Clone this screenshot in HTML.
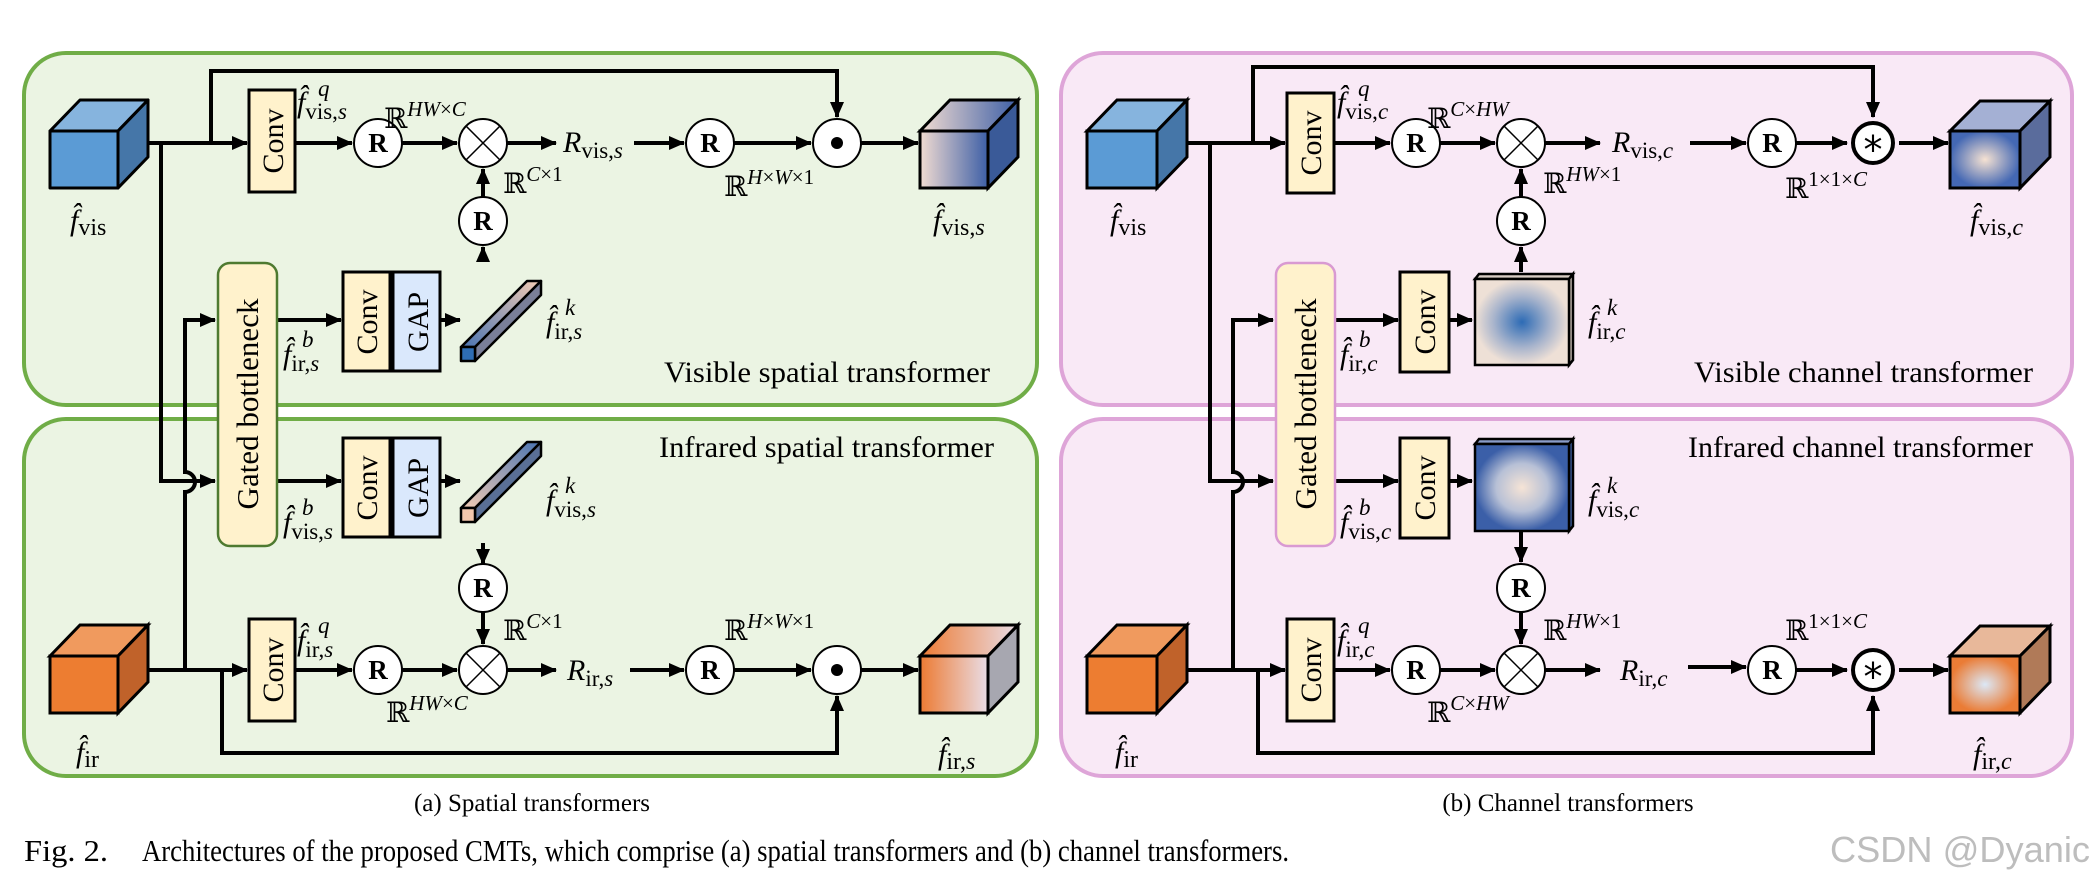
<!DOCTYPE html>
<html><head><meta charset="utf-8"><style>
html,body{margin:0;padding:0;background:#fff;}
svg{display:block;}
text{font-family:"Liberation Serif","DejaVu Serif",serif;fill:#000;}
.lb{font-size:30px;font-style:italic;}
.sb{font-style:normal;}
.rr{font-size:27px;font-weight:bold;}
.ln{stroke:#000;stroke-width:4;fill:none;}
.bx{stroke:#000;stroke-width:3;}
.pt{font-size:30px;}
</style></head><body>
<svg width="2095" height="885" viewBox="0 0 2095 885" xmlns="http://www.w3.org/2000/svg">
<defs>
<marker id="a" markerUnits="userSpaceOnUse" markerWidth="16" markerHeight="14" refX="15" refY="7" orient="auto"><path d="M0,0 L16,7 L0,14 z" fill="#000"/></marker>
<linearGradient id="gvs" x1="0" x2="1"><stop offset="0" stop-color="#f2dcd2"/><stop offset="1" stop-color="#3d5fa6"/></linearGradient>
<linearGradient id="gis" x1="0" x2="1"><stop offset="0" stop-color="#ec7a32"/><stop offset="1" stop-color="#eadde6"/></linearGradient>
<linearGradient id="bar1" x1="0" y1="1" x2="1" y2="0"><stop offset="0" stop-color="#4a74b2"/><stop offset="1" stop-color="#f3ccb4"/></linearGradient>
<linearGradient id="bar2" x1="0" y1="1" x2="1" y2="0"><stop offset="0" stop-color="#f3ccb4"/><stop offset="1" stop-color="#4a74b2"/></linearGradient>
<radialGradient id="rb"><stop offset="0" stop-color="#2d6bb5"/><stop offset="0.6" stop-color="#a8b4cc"/><stop offset="1" stop-color="#eee0d6"/></radialGradient>
<radialGradient id="rw"><stop offset="0" stop-color="#f6e4d6"/><stop offset="0.55" stop-color="#b7c0d6"/><stop offset="1" stop-color="#3b5fa8"/></radialGradient>
<radialGradient id="rvc"><stop offset="0" stop-color="#f6e2d2"/><stop offset="1" stop-color="#4468b4"/></radialGradient>
<radialGradient id="ric"><stop offset="0" stop-color="#dce8f6"/><stop offset="1" stop-color="#ea7c36"/></radialGradient>
</defs>

<rect x="24" y="53" width="1013" height="352" rx="42" fill="#ebf4e3" stroke="#70ad47" stroke-width="4"/>
<rect x="24" y="419" width="1013" height="357" rx="42" fill="#ebf4e3" stroke="#70ad47" stroke-width="4"/>
<rect x="1061" y="53" width="1011" height="352" rx="42" fill="#f9e9f6" stroke="#dea5d8" stroke-width="4"/>
<rect x="1061" y="419" width="1011" height="357" rx="42" fill="#f9e9f6" stroke="#dea5d8" stroke-width="4"/>

<!-- ============ LEFT ============ -->
<g class="bx" stroke-linejoin="round">
<rect x="50" y="131" width="68" height="57" fill="#5b9bd5"/>
<polygon points="50,131 80,100 148,100 118,131" fill="#86b4de"/>
<polygon points="118,131 148,100 148,157 118,188" fill="#4576a8"/>
</g>
<g class="bx">
<rect x="50" y="656" width="68" height="57" fill="#ed7d31"/>
<polygon points="50,656 80,625 148,625 118,656" fill="#f09a5e"/>
<polygon points="118,656 148,625 148,682 118,713" fill="#c0622a"/>
</g>
<g class="bx">
<rect x="920" y="131" width="68" height="57" fill="url(#gvs)"/>
<polygon points="920,131 950,100 1018,100 988,131" fill="url(#gvs)"/>
<polygon points="988,131 1018,100 1018,157 988,188" fill="#3a5a98"/>
<rect x="920" y="656" width="68" height="57" fill="url(#gis)"/>
<polygon points="920,656 950,625 1018,625 988,656" fill="url(#gis)"/>
<polygon points="988,656 1018,625 1018,682 988,713" fill="#a7a7b0"/>
</g>

<path class="ln" d="M148,143 L247,143" marker-end="url(#a)"/>
<path class="ln" d="M211,143 L211,71 L837,71 L837,117" marker-end="url(#a)"/>
<path class="ln" d="M295,143 L352,143" marker-end="url(#a)"/>
<path class="ln" d="M402,143 L457,143" marker-end="url(#a)"/>
<path class="ln" d="M507,143 L556,143" marker-end="url(#a)"/>
<path class="ln" d="M634,143 L684,143" marker-end="url(#a)"/>
<path class="ln" d="M734,143 L811,143" marker-end="url(#a)"/>
<path class="ln" d="M861,143 L918,143" marker-end="url(#a)"/>
<path class="ln" d="M483,197 L483,169" marker-end="url(#a)"/>
<path class="ln" d="M483,262 L483,247" marker-end="url(#a)"/>
<path class="ln" d="M148,670 L247,670" marker-end="url(#a)"/>
<path class="ln" d="M222,670 L222,753 L837,753 L837,696" marker-end="url(#a)"/>
<path class="ln" d="M295,670 L352,670" marker-end="url(#a)"/>
<path class="ln" d="M402,670 L457,670" marker-end="url(#a)"/>
<path class="ln" d="M507,670 L556,670" marker-end="url(#a)"/>
<path class="ln" d="M630,670 L684,670" marker-end="url(#a)"/>
<path class="ln" d="M734,670 L811,670" marker-end="url(#a)"/>
<path class="ln" d="M861,670 L918,670" marker-end="url(#a)"/>
<path class="ln" d="M483,543 L483,564" marker-end="url(#a)"/>
<path class="ln" d="M483,612 L483,644" marker-end="url(#a)"/>
<path class="ln" d="M161,143 L161,481 L215,481" marker-end="url(#a)"/>
<path class="ln" d="M185,670 L185,492 A10,10 0 0 0 185,472 L185,320 L215,320" marker-end="url(#a)"/>
<path class="ln" d="M278,320 L341,320" marker-end="url(#a)"/>
<path class="ln" d="M278,481 L341,481" marker-end="url(#a)"/>
<path class="ln" d="M440,320 L460,320" marker-end="url(#a)"/>
<path class="ln" d="M440,481 L460,481" marker-end="url(#a)"/>

<rect x="218" y="263" width="59" height="283" rx="12" fill="#fff2cc" stroke="#4e7a30" stroke-width="2.5"/>
<text transform="translate(258,404) rotate(-90)" text-anchor="middle" font-size="31">Gated bottleneck</text>
<g class="bx">
<rect x="249" y="90" width="46" height="102" fill="#fff2cc"/>
<rect x="249" y="619" width="46" height="102" fill="#fff2cc"/>
<rect x="343" y="272" width="47" height="99" fill="#fff2cc"/>
<rect x="393" y="272" width="47" height="99" fill="#dae8fc"/>
<rect x="343" y="438" width="47" height="99" fill="#fff2cc"/>
<rect x="393" y="438" width="47" height="99" fill="#dae8fc"/>
</g>
<g font-size="30" text-anchor="middle">
<text transform="translate(283,141) rotate(-90)">Conv</text>
<text transform="translate(283,670) rotate(-90)">Conv</text>
<text transform="translate(377,322) rotate(-90)">Conv</text>
<text transform="translate(428,322) rotate(-90)">GAP</text>
<text transform="translate(377,488) rotate(-90)">Conv</text>
<text transform="translate(428,488) rotate(-90)">GAP</text>
</g>
<g stroke="#000" stroke-width="2.5" stroke-linejoin="round">
<polygon points="461,347 527,281 541,281 475,347" fill="url(#bar1)"/>
<polygon points="475,347 541,281 541,295 475,361" fill="#7a7f98"/>
<rect x="461" y="347" width="14" height="14" fill="#2e6db4"/>
<polygon points="461,508 527,442 541,442 475,508" fill="url(#bar2)"/>
<polygon points="475,508 541,442 541,456 475,522" fill="#5a6f96"/>
<rect x="461" y="508" width="14" height="14" fill="#f3c6ac"/>
</g>

<g fill="#fff" stroke="#000" stroke-width="2">
<circle cx="378" cy="143" r="24"/><circle cx="483" cy="143" r="24"/><circle cx="483" cy="221" r="24"/>
<circle cx="710" cy="143" r="24"/><circle cx="837" cy="143" r="24"/>
<circle cx="378" cy="670" r="24"/><circle cx="483" cy="670" r="24"/><circle cx="483" cy="588" r="24"/>
<circle cx="710" cy="670" r="24"/><circle cx="837" cy="670" r="24"/>
</g>
<g stroke="#000" stroke-width="1.5">
<path d="M466,126 L500,160 M500,126 L466,160"/>
<path d="M466,653 L500,687 M500,653 L466,687"/>
</g>
<circle cx="837" cy="143" r="6" fill="#000"/><circle cx="837" cy="670" r="6" fill="#000"/>
<g class="rr" text-anchor="middle">
<text x="378" y="152">R</text><text x="483" y="230">R</text><text x="710" y="152">R</text>
<text x="378" y="679">R</text><text x="483" y="597">R</text><text x="710" y="679">R</text>
</g>

<g class="lb">
<text x="70" y="230">f̂<tspan class="sb" font-size="24" dy="5">vis</tspan></text>
<text x="297" y="112">f̂<tspan class="sb" font-size="23" dy="7">vis,</tspan><tspan font-size="23">s</tspan><tspan font-size="23" x="318" y="96">q</tspan></text>
<text x="384" y="128" font-style="normal" font-size="28">ℝ<tspan font-style="italic" font-size="21" dy="-12">HW</tspan><tspan font-size="21">×</tspan><tspan font-style="italic" font-size="21">C</tspan></text>
<text x="503" y="193" font-style="normal" font-size="28">ℝ<tspan font-style="italic" font-size="21" dy="-12">C</tspan><tspan font-size="21">×1</tspan></text>
<text x="563" y="152">R<tspan class="sb" font-size="23" dy="6">vis,</tspan><tspan font-size="23">s</tspan></text>
<text x="724" y="196" font-style="normal" font-size="28">ℝ<tspan font-style="italic" font-size="21" dy="-12">H</tspan><tspan font-size="21">×</tspan><tspan font-style="italic" font-size="21">W</tspan><tspan font-size="21">×1</tspan></text>
<text x="933" y="230">f̂<tspan class="sb" font-size="24" dy="5">vis,</tspan><tspan font-size="24">s</tspan></text>
<text x="283" y="364">f̂<tspan class="sb" font-size="23" dy="7">ir,</tspan><tspan font-size="23">s</tspan><tspan font-size="23" x="302" y="347">b</tspan></text>
<text x="546" y="332">f̂<tspan class="sb" font-size="23" dy="7">ir,</tspan><tspan font-size="23">s</tspan><tspan font-size="23" x="565" y="315">k</tspan></text>
<text x="546" y="510">f̂<tspan class="sb" font-size="23" dy="7">vis,</tspan><tspan font-size="23">s</tspan><tspan font-size="23" x="565" y="493">k</tspan></text>
<text x="283" y="532">f̂<tspan class="sb" font-size="23" dy="7">vis,</tspan><tspan font-size="23">s</tspan><tspan font-size="23" x="302" y="515">b</tspan></text>
<text x="503" y="640" font-style="normal" font-size="28">ℝ<tspan font-style="italic" font-size="21" dy="-12">C</tspan><tspan font-size="21">×1</tspan></text>
<text x="724" y="640" font-style="normal" font-size="28">ℝ<tspan font-style="italic" font-size="21" dy="-12">H</tspan><tspan font-size="21">×</tspan><tspan font-style="italic" font-size="21">W</tspan><tspan font-size="21">×1</tspan></text>
<text x="297" y="650">f̂<tspan class="sb" font-size="23" dy="7">ir,</tspan><tspan font-size="23">s</tspan><tspan font-size="23" x="318" y="633">q</tspan></text>
<text x="386" y="722" font-style="normal" font-size="28">ℝ<tspan font-style="italic" font-size="21" dy="-12">HW</tspan><tspan font-size="21">×</tspan><tspan font-style="italic" font-size="21">C</tspan></text>
<text x="567" y="680">R<tspan class="sb" font-size="23" dy="6">ir,</tspan><tspan font-size="23">s</tspan></text>
<text x="76" y="762">f̂<tspan class="sb" font-size="24" dy="5">ir</tspan></text>
<text x="938" y="764">f̂<tspan class="sb" font-size="24" dy="5">ir,</tspan><tspan font-size="24">s</tspan></text>
</g>
<text class="pt" x="664" y="382" textLength="326" lengthAdjust="spacingAndGlyphs">Visible spatial transformer</text>
<text class="pt" x="659" y="457" textLength="335" lengthAdjust="spacingAndGlyphs">Infrared spatial transformer</text>

<!-- ============ RIGHT ============ -->
<g class="bx">
<rect x="1087" y="131" width="70" height="57" fill="#5b9bd5"/>
<polygon points="1087,131 1117,100 1187,100 1157,131" fill="#86b4de"/>
<polygon points="1157,131 1187,100 1187,157 1157,188" fill="#4576a8"/>
<rect x="1087" y="656" width="70" height="57" fill="#ed7d31"/>
<polygon points="1087,656 1117,625 1187,625 1157,656" fill="#f09a5e"/>
<polygon points="1157,656 1187,625 1187,682 1157,713" fill="#c0622a"/>
<rect x="1950" y="131" width="70" height="57" fill="url(#rvc)"/>
<polygon points="1950,131 1980,101 2050,101 2020,131" fill="#a4b0d4"/>
<polygon points="2020,131 2050,101 2050,157 2020,188" fill="#5a6c9c"/>
<rect x="1950" y="656" width="70" height="57" fill="url(#ric)"/>
<polygon points="1950,656 1980,626 2050,626 2020,656" fill="#e8b89a"/>
<polygon points="2020,656 2050,626 2050,682 2020,713" fill="#b07a58"/>
</g>

<path class="ln" d="M1187,143 L1285,143" marker-end="url(#a)"/>
<path class="ln" d="M1253,143 L1253,67 L1873,67 L1873,117" marker-end="url(#a)"/>
<path class="ln" d="M1334,143 L1390,143" marker-end="url(#a)"/>
<path class="ln" d="M1440,143 L1495,143" marker-end="url(#a)"/>
<path class="ln" d="M1545,143 L1600,143" marker-end="url(#a)"/>
<path class="ln" d="M1690,143 L1746,143" marker-end="url(#a)"/>
<path class="ln" d="M1796,143 L1847,143" marker-end="url(#a)"/>
<path class="ln" d="M1899,143 L1948,143" marker-end="url(#a)"/>
<path class="ln" d="M1521,197 L1521,169" marker-end="url(#a)"/>
<path class="ln" d="M1521,272 L1521,247" marker-end="url(#a)"/>

<path class="ln" d="M1187,670 L1285,670" marker-end="url(#a)"/>
<path class="ln" d="M1258,670 L1258,753 L1873,753 L1873,696" marker-end="url(#a)"/>
<path class="ln" d="M1334,670 L1390,670" marker-end="url(#a)"/>
<path class="ln" d="M1440,670 L1495,670" marker-end="url(#a)"/>
<path class="ln" d="M1545,670 L1600,670" marker-end="url(#a)"/>
<path class="ln" d="M1688,667 L1746,667" marker-end="url(#a)"/>
<path class="ln" d="M1796,670 L1847,670" marker-end="url(#a)"/>
<path class="ln" d="M1899,670 L1948,670" marker-end="url(#a)"/>
<path class="ln" d="M1521,532 L1521,562" marker-end="url(#a)"/>
<path class="ln" d="M1521,612 L1521,644" marker-end="url(#a)"/>

<path class="ln" d="M1210,143 L1210,481 L1273,481" marker-end="url(#a)"/>
<path class="ln" d="M1233,670 L1233,492 A10,10 0 0 0 1233,472 L1233,320 L1273,320" marker-end="url(#a)"/>
<path class="ln" d="M1335,320 L1398,320" marker-end="url(#a)"/>
<path class="ln" d="M1335,481 L1398,481" marker-end="url(#a)"/>
<path class="ln" d="M1449,320 L1472,320" marker-end="url(#a)"/>
<path class="ln" d="M1449,481 L1472,481" marker-end="url(#a)"/>

<rect x="1276" y="263" width="59" height="283" rx="12" fill="#fff2cc" stroke="#d99ad2" stroke-width="2.5"/>
<text transform="translate(1316,404) rotate(-90)" text-anchor="middle" font-size="31">Gated bottleneck</text>
<g class="bx">
<rect x="1287" y="93" width="47" height="100" fill="#fff2cc"/>
<rect x="1287" y="619" width="47" height="102" fill="#fff2cc"/>
<rect x="1400" y="272" width="49" height="100" fill="#fff2cc"/>
<rect x="1400" y="438" width="49" height="100" fill="#fff2cc"/>
</g>
<g font-size="30" text-anchor="middle">
<text transform="translate(1321,143) rotate(-90)">Conv</text>
<text transform="translate(1321,670) rotate(-90)">Conv</text>
<text transform="translate(1435,322) rotate(-90)">Conv</text>
<text transform="translate(1435,488) rotate(-90)">Conv</text>
</g>
<g stroke="#000" stroke-width="2.5">
<polygon points="1475,279 1479,274 1573,274 1569,279" fill="#d8ccc4"/>
<polygon points="1569,279 1573,274 1573,360 1569,365" fill="#c8bcb4"/>
<rect x="1475" y="279" width="94" height="86" fill="url(#rb)"/>
<polygon points="1475,444 1479,439 1573,439 1569,444" fill="#8a9cc8"/>
<polygon points="1569,444 1573,439 1573,526 1569,531" fill="#3a5a98"/>
<rect x="1475" y="444" width="94" height="87" fill="url(#rw)"/>
</g>

<g fill="#fff" stroke="#000" stroke-width="2">
<circle cx="1416" cy="143" r="24"/><circle cx="1521" cy="143" r="24"/><circle cx="1521" cy="221" r="24"/>
<circle cx="1772" cy="143" r="24"/>
<circle cx="1416" cy="670" r="24"/><circle cx="1521" cy="670" r="24"/><circle cx="1521" cy="588" r="24"/>
<circle cx="1772" cy="670" r="24"/>
</g>
<circle cx="1873" cy="143" r="20" fill="#fff" stroke="#000" stroke-width="4"/>
<circle cx="1873" cy="670" r="20" fill="#fff" stroke="#000" stroke-width="4"/>
<g stroke="#000" stroke-width="1.5">
<path d="M1504,126 L1538,160 M1538,126 L1504,160"/>
<path d="M1504,653 L1538,687 M1538,653 L1504,687"/>
</g>
<g font-size="38" text-anchor="middle">
<text x="1873" y="163" style="font-family:'DejaVu Sans',sans-serif">*</text>
<text x="1873" y="690" style="font-family:'DejaVu Sans',sans-serif">*</text>
</g>
<g class="rr" text-anchor="middle">
<text x="1416" y="152">R</text><text x="1521" y="230">R</text><text x="1772" y="152">R</text>
<text x="1416" y="679">R</text><text x="1521" y="597">R</text><text x="1772" y="679">R</text>
</g>

<g class="lb">
<text x="1110" y="230">f̂<tspan class="sb" font-size="24" dy="5">vis</tspan></text>
<text x="1337" y="112">f̂<tspan class="sb" font-size="23" dy="7">vis,</tspan><tspan font-size="23">c</tspan><tspan font-size="23" x="1358" y="96">q</tspan></text>
<text x="1427" y="128" font-style="normal" font-size="28">ℝ<tspan font-style="italic" font-size="21" dy="-12">C</tspan><tspan font-size="21">×</tspan><tspan font-style="italic" font-size="21">HW</tspan></text>
<text x="1543" y="193" font-style="normal" font-size="28">ℝ<tspan font-style="italic" font-size="21" dy="-12">HW</tspan><tspan font-size="21">×1</tspan></text>
<text x="1612" y="152">R<tspan class="sb" font-size="23" dy="6">vis,</tspan><tspan font-size="23">c</tspan></text>
<text x="1785" y="198" font-style="normal" font-size="28">ℝ<tspan font-size="21" dy="-12">1×1×</tspan><tspan font-style="italic" font-size="21">C</tspan></text>
<text x="1970" y="230">f̂<tspan class="sb" font-size="24" dy="5">vis,</tspan><tspan font-size="24">c</tspan></text>
<text x="1340" y="364">f̂<tspan class="sb" font-size="23" dy="7">ir,</tspan><tspan font-size="23">c</tspan><tspan font-size="23" x="1359" y="347">b</tspan></text>
<text x="1588" y="332">f̂<tspan class="sb" font-size="23" dy="7">ir,</tspan><tspan font-size="23">c</tspan><tspan font-size="23" x="1607" y="315">k</tspan></text>
<text x="1588" y="510">f̂<tspan class="sb" font-size="23" dy="7">vis,</tspan><tspan font-size="23">c</tspan><tspan font-size="23" x="1607" y="493">k</tspan></text>
<text x="1340" y="532">f̂<tspan class="sb" font-size="23" dy="7">vis,</tspan><tspan font-size="23">c</tspan><tspan font-size="23" x="1359" y="515">b</tspan></text>
<text x="1543" y="640" font-style="normal" font-size="28">ℝ<tspan font-style="italic" font-size="21" dy="-12">HW</tspan><tspan font-size="21">×1</tspan></text>
<text x="1785" y="640" font-style="normal" font-size="28">ℝ<tspan font-size="21" dy="-12">1×1×</tspan><tspan font-style="italic" font-size="21">C</tspan></text>
<text x="1337" y="650">f̂<tspan class="sb" font-size="23" dy="7">ir,</tspan><tspan font-size="23">c</tspan><tspan font-size="23" x="1358" y="633">q</tspan></text>
<text x="1427" y="722" font-style="normal" font-size="28">ℝ<tspan font-style="italic" font-size="21" dy="-12">C</tspan><tspan font-size="21">×</tspan><tspan font-style="italic" font-size="21">HW</tspan></text>
<text x="1620" y="680">R<tspan class="sb" font-size="23" dy="6">ir,</tspan><tspan font-size="23">c</tspan></text>
<text x="1115" y="762">f̂<tspan class="sb" font-size="24" dy="5">ir</tspan></text>
<text x="1973" y="764">f̂<tspan class="sb" font-size="24" dy="5">ir,</tspan><tspan font-size="24">c</tspan></text>
</g>
<text class="pt" x="1694" y="382" textLength="339" lengthAdjust="spacingAndGlyphs">Visible channel transformer</text>
<text class="pt" x="1688" y="457" textLength="345" lengthAdjust="spacingAndGlyphs">Infrared channel transformer</text>

<text x="532" y="811" font-size="25" text-anchor="middle">(a) Spatial transformers</text>
<text x="1568" y="811" font-size="25" text-anchor="middle">(b) Channel transformers</text>
<text x="24" y="861" font-size="31" textLength="84" lengthAdjust="spacingAndGlyphs">Fig. 2.</text>
<text x="142" y="861" font-size="31" textLength="1147" lengthAdjust="spacingAndGlyphs">Architectures of the proposed CMTs, which comprise (a) spatial transformers and (b) channel transformers.</text>
<text x="1830" y="862" font-size="36" style="font-family:'Liberation Sans',sans-serif;fill:#bdbdbd" textLength="260" lengthAdjust="spacingAndGlyphs">CSDN @Dyanic</text>
</svg>
</body></html>
